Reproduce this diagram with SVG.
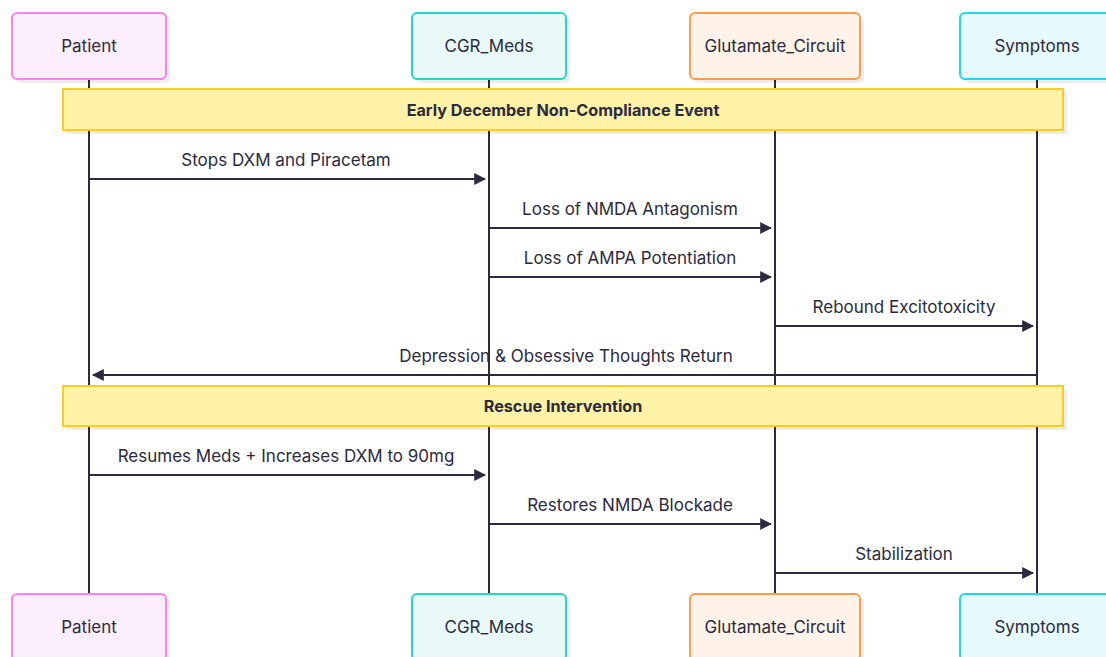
<svg xmlns="http://www.w3.org/2000/svg" width="1106" height="657" viewBox="0 0 1106 657">
<defs>
<style>
.t{font-family:Inter,"Noto Sans",sans-serif;font-size:17px;fill:#2b2a40;text-anchor:middle;dominant-baseline:central}
.b{font-weight:bold;font-size:16.2px}
.life{stroke:#2b2a40;stroke-width:2}
.msg{stroke:#2b2a40;stroke-width:2;fill:none;marker-end:url(#ah)}
.sh{fill:#000;opacity:0.07}
.note{fill:#fdf2a6;stroke:#fccc25;stroke-width:2}
</style>
<marker id="ah" viewBox="0 0 10 10" refX="9" refY="5" markerWidth="6" markerHeight="6" orient="auto" markerUnits="strokeWidth"><path d="M0,0 L10,5 L0,10 z" fill="#2b2a40"/></marker>
</defs>
<rect width="1106" height="657" fill="#ffffff"/>
<g id="lifelines">
<line class="life" x1="89" y1="79" x2="89" y2="594"/>
<line class="life" x1="489" y1="79" x2="489" y2="594"/>
<line class="life" x1="775" y1="79" x2="775" y2="594"/>
<line class="life" x1="1037" y1="79" x2="1037" y2="594"/>
</g>
<g id="note1">
<rect class="sh" x="67" y="93" width="1000" height="41"/>
<rect class="note" x="63" y="89" width="1000" height="41"/>
<text class="t b" x="563" y="110">Early December Non-Compliance Event</text>
</g>
<g id="note2">
<rect class="sh" x="67" y="390" width="1000" height="40"/>
<rect class="note" x="63" y="386" width="1000" height="40"/>
<text class="t b" x="563" y="406">Rescue Intervention</text>
</g>
<g id="connectors">
<line class="msg" x1="89" y1="179" x2="485" y2="179"/>
<text class="t" x="286" y="160">Stops DXM and Piracetam</text>
<line class="msg" x1="489" y1="228" x2="771" y2="228"/>
<text class="t" x="630" y="209">Loss of NMDA Antagonism</text>
<line class="msg" x1="489" y1="277" x2="771" y2="277"/>
<text class="t" x="630" y="258">Loss of AMPA Potentiation</text>
<line class="msg" x1="775" y1="326" x2="1033" y2="326"/>
<text class="t" x="904" y="307">Rebound Excitotoxicity</text>
<line class="msg" x1="1037" y1="375" x2="93" y2="375"/>
<text class="t" x="566" y="356">Depression &amp; Obsessive Thoughts Return</text>
<line class="msg" x1="89" y1="475" x2="485" y2="475"/>
<text class="t" x="286" y="456">Resumes Meds + Increases DXM to 90mg</text>
<line class="msg" x1="489" y1="524" x2="771" y2="524"/>
<text class="t" x="630" y="505">Restores NMDA Blockade</text>
<line class="msg" x1="775" y1="573" x2="1033" y2="573"/>
<text class="t" x="904" y="554">Stabilization</text>
</g>
<g id="patient-top">
<rect class="sh" x="16" y="17" width="154" height="66" rx="5"/>
<rect x="12" y="13" width="154" height="66" rx="5" fill="#fdeefd" stroke="#ff7fef" stroke-width="2"/>
<text class="t" x="89" y="46">Patient</text>
</g>
<g id="cgr-top">
<rect class="sh" x="416" y="17" width="154" height="66" rx="5"/>
<rect x="412" y="13" width="154" height="66" rx="5" fill="#e9f9f8" stroke="#22d8c4" stroke-width="2"/>
<text class="t" x="489" y="46">CGR_Meds</text>
</g>
<g id="glut-top">
<rect class="sh" x="694" y="17" width="170" height="66" rx="5"/>
<rect x="690" y="13" width="170" height="66" rx="5" fill="#fff3e9" stroke="#ff9b4d" stroke-width="2"/>
<text class="t" x="775" y="46">Glutamate_Circuit</text>
</g>
<g id="symptoms-top">
<rect class="sh" x="964" y="17" width="154" height="66" rx="5"/>
<rect x="960" y="13" width="154" height="66" rx="5" fill="#e6f9fd" stroke="#22d6ee" stroke-width="2"/>
<text class="t" x="1037" y="46">Symptoms</text>
</g>
<g id="patient-bottom">
<rect class="sh" x="16" y="598" width="154" height="66" rx="5"/>
<rect x="12" y="594" width="154" height="66" rx="5" fill="#fdeefd" stroke="#ff7fef" stroke-width="2"/>
<text class="t" x="89" y="627">Patient</text>
</g>
<g id="cgr-bottom">
<rect class="sh" x="416" y="598" width="154" height="66" rx="5"/>
<rect x="412" y="594" width="154" height="66" rx="5" fill="#e9f9f8" stroke="#22d8c4" stroke-width="2"/>
<text class="t" x="489" y="627">CGR_Meds</text>
</g>
<g id="glut-bottom">
<rect class="sh" x="694" y="598" width="170" height="66" rx="5"/>
<rect x="690" y="594" width="170" height="66" rx="5" fill="#fff3e9" stroke="#ff9b4d" stroke-width="2"/>
<text class="t" x="775" y="627">Glutamate_Circuit</text>
</g>
<g id="symptoms-bottom">
<rect class="sh" x="964" y="598" width="154" height="66" rx="5"/>
<rect x="960" y="594" width="154" height="66" rx="5" fill="#e6f9fd" stroke="#22d6ee" stroke-width="2"/>
<text class="t" x="1037" y="627">Symptoms</text>
</g>
</svg>
